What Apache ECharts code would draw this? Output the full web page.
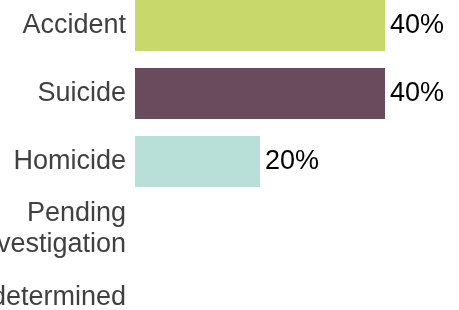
<!DOCTYPE html>
<html>
<head>
<meta charset="utf-8">
<script src="https://cdn.jsdelivr.net/npm/echarts@6/dist/echarts.min.js"></script>
<style>
  html, body { margin: 0; padding: 0; background: #fff; }
  #chart { width: 459px; height: 310px; }
</style>
</head>
<body>
<div id="chart"></div>
<script>
// manner of death, share of cases (%)
const categories = ['Accident', 'Suicide', 'Homicide', 'Pending\ninvestigation', 'Undetermined'];
const shares = [40, 40, 20, 0, 0];
const barColors = ['#c9d86b', '#6a4b5e', '#b8e0d9', '#999999', '#999999'];

const chart = echarts.init(document.getElementById('chart'));

chart.setOption({
  animation: false,
  grid: {
    left: 135, top: -8.5, width: 250, height: 340,
    containLabel: false,
    outerBoundsMode: 'none'
  },
  xAxis: {
    type: 'value',
    min: 0,
    max: 40,
    show: false
  },
  yAxis: {
    type: 'category',
    data: categories,
    inverse: true,
    axisLine: { show: false },
    axisTick: { show: false },
    splitLine: { show: false },
    axisLabel: {
      margin: 9,
      color: '#404040',
      fontFamily: 'Liberation Sans, Arial, sans-serif',
      fontSize: 27,
      lineHeight: 31,
      hideOverlap: false
    }
  },
  series: [{
    type: 'bar',
    barWidth: '75%',
    data: shares.map((v, i) => ({ value: v, itemStyle: { color: barColors[i] } })),
    label: {
      show: true,
      position: 'right',
      distance: 5,
      color: '#000',
      fontFamily: 'Liberation Sans, Arial, sans-serif',
      fontSize: 27,
      formatter: p => (p.value > 0 ? p.value + '%' : '')
    }
  }]
});
</script>
</body>
</html>
